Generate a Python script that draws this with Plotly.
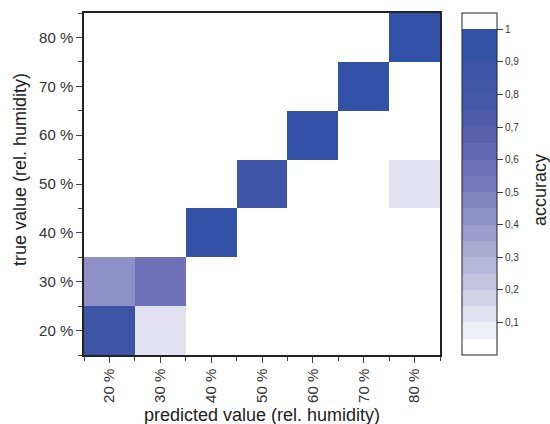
import plotly.graph_objects as go

# categories (relative humidity, %)
categories = [20, 30, 40, 50, 60, 70, 80]
tick_labels = ["20 %", "30 %", "40 %", "50 %", "60 %", "70 %", "80 %"]

# accuracy per true value (rows) and predicted value (columns)
row_20 = [0.87, 0.13, 0, 0, 0, 0, 0]
row_30 = [0.42, 0.58, 0, 0, 0, 0, 0]
row_40 = [0, 0, 1.0, 0, 0, 0, 0]
row_50 = [0, 0, 0, 0.87, 0, 0, 0.13]
row_60 = [0, 0, 0, 0, 1.0, 0, 0]
row_70 = [0, 0, 0, 0, 0, 1.0, 0]
row_80 = [0, 0, 0, 0, 0, 0, 1.0]
z = [row_20, row_30, row_40, row_50, row_60, row_70, row_80]

cb_tickvals = [0.1, 0.2, 0.3, 0.4, 0.5, 0.6, 0.7, 0.8, 0.9, 1.0]
cb_ticktext = ["0,1", "0,2", "0,3", "0,4", "0,5", "0,6", "0,7", "0,8", "0,9", "1"]

x_title = "predicted value (rel. humidity)"
y_title = "true value (rel. humidity)"
cb_title = "accuracy"

# stepped colour scale, bands of 0.05 from 0 to 1.05
band_colors = ["#FFFFFF",
               "#EFEFF7", "#E1E1EF", "#D2D2E9", "#C4C4E1", "#B7B7DA",
               "#AAAAD3", "#9D9DCD", "#9090C8", "#8484C1", "#7878BC",
               "#6E70B8", "#6268B2", "#5860AD", "#4F5CAB", "#4858A9",
               "#4256A8", "#3C55A7", "#3553A7", "#3152A6",
               "#FFFFFF"]
zmax = 1.05
colorscale = []
for k, c in enumerate(band_colors):
    lo = k * 0.05
    hi = (k + 1) * 0.05
    if k == len(band_colors) - 2:
        hi = 1.0005
    if k == len(band_colors) - 1:
        lo = 1.0005
        hi = zmax
    colorscale.append([min(lo / zmax, 1.0), c])
    colorscale.append([min(hi / zmax, 1.0), c])
colorscale[0][0] = 0.0
colorscale[-1][0] = 1.0

font_family = "Arial, Liberation Sans, sans-serif"

# plot area in pixels: x 84..440, y 13..355
L, R, T, B = 84, 440, 13, 355
W, H = R - L, B - T


def px_x(p):
    return (p - L) / W


def px_y(p):
    return (B - p) / H


fig = go.Figure(go.Heatmap(
    x=categories, y=categories, z=z,
    zmin=0, zmax=zmax,
    colorscale=colorscale,
    colorbar=dict(
        x=px_x(462), xanchor="left", xref="paper", xpad=0, ypad=0,
        y=0.5, yanchor="middle", len=1.0, lenmode="fraction",
        thickness=35, thicknessmode="pixels",
        outlinecolor="#222", outlinewidth=1,
        tickvals=cb_tickvals, ticktext=cb_ticktext,
        ticks="outside", ticklen=6, tickcolor="#444",
        tickfont=dict(family=font_family, size=10, color="#333"),
    ),
))

axis_common = dict(
    showline=True, linecolor="#222", linewidth=1.5, mirror=True,
    ticks="outside", ticklen=6, tickcolor="#444", tickwidth=1,
    tickfont=dict(family=font_family, size=15, color="#333"),
    showgrid=False, zeroline=False, automargin=False,
    range=[15, 85],
    tickvals=categories, ticktext=tick_labels,
    minor=dict(tickvals=[15, 25, 35, 45, 55, 65, 75, 85], ticks="outside",
               ticklen=4, tickcolor="#444"),
)

title_font = dict(family=font_family, size=18, color="#222")

fig.update_layout(
    width=550, height=424,
    margin=dict(l=L, r=550 - R, t=T, b=424 - B, autoexpand=False),
    paper_bgcolor="white", plot_bgcolor="white",
    font=dict(family=font_family),
    xaxis=dict(**axis_common, tickangle=-90),
    yaxis=dict(**axis_common),
    annotations=[
        dict(text=x_title, xref="paper", yref="paper",
             x=0.5, y=px_y(415), xanchor="center", yanchor="middle",
             showarrow=False, font=title_font),
        dict(text=y_title, xref="paper", yref="paper",
             x=px_x(20), y=px_y(170), xanchor="center", yanchor="middle",
             textangle=-90, showarrow=False, font=title_font),
        dict(text=cb_title, xref="paper", yref="paper",
             x=px_x(540), y=px_y(190), xanchor="center", yanchor="middle",
             textangle=-90, showarrow=False, font=title_font),
    ],
)

fig.write_html(
    "out.html",
    config={"displayModeBar": False},
    post_script="document.body.style.margin='0';document.body.style.padding='0';",
)
